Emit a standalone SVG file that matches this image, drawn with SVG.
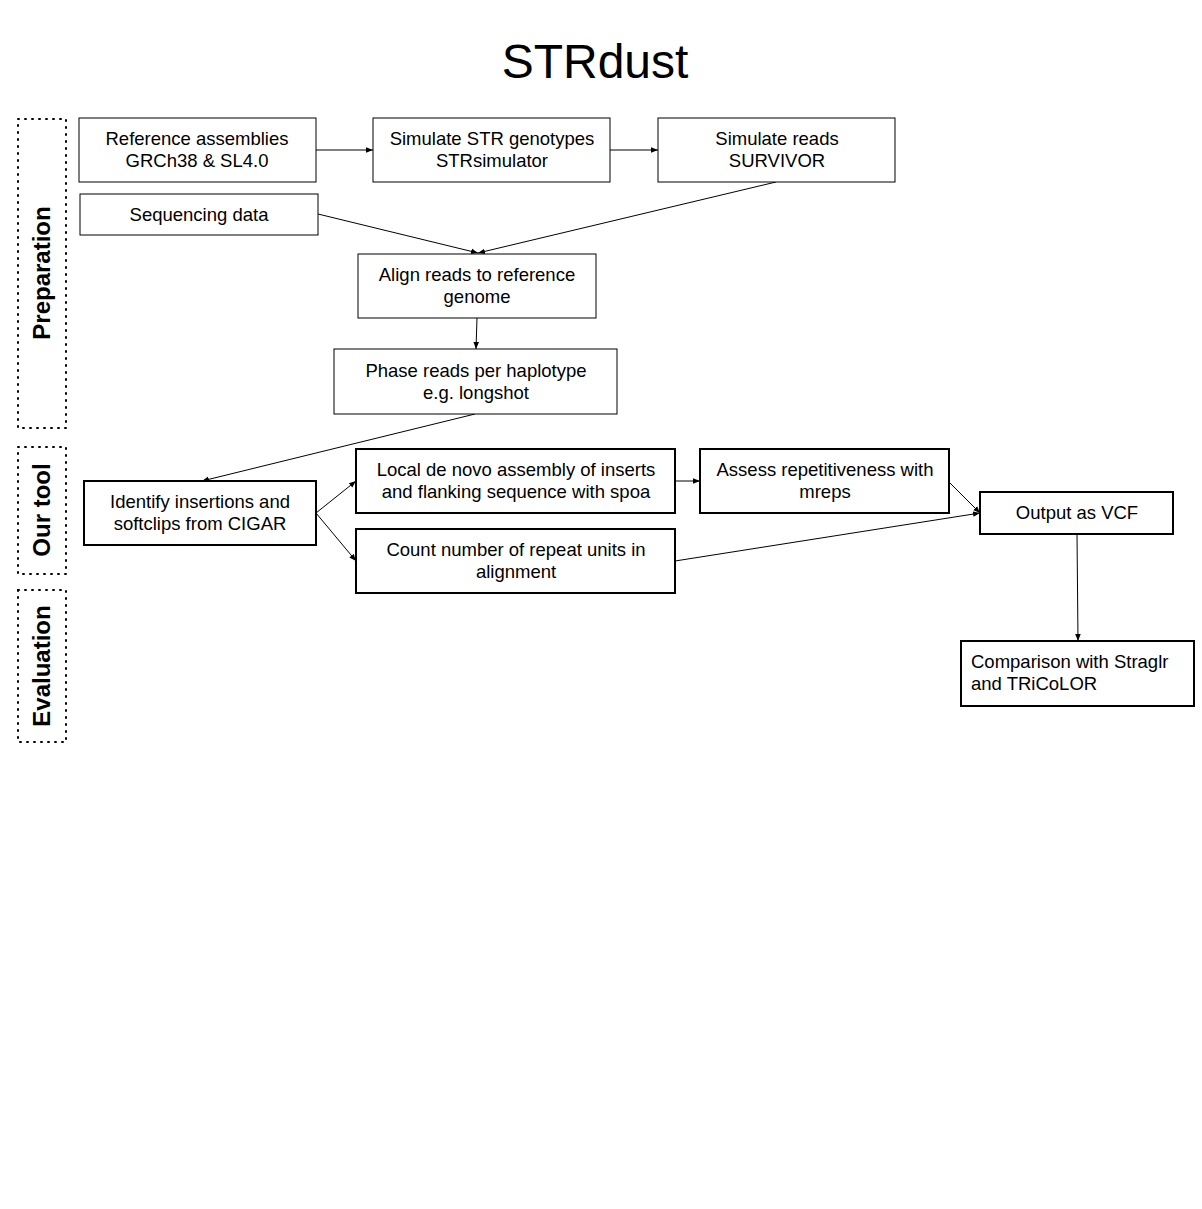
<svg xmlns="http://www.w3.org/2000/svg" width="1202" height="1209" viewBox="0 0 1202 1209">
<style>
.b1{fill:#fff;stroke:#000;stroke-width:1}
.b2{fill:#fff;stroke:#000;stroke-width:2}
.t{font-family:"Liberation Sans",Arial,sans-serif;font-size:18.5px;fill:#000;text-anchor:middle}
.tl{font-family:"Liberation Sans",Arial,sans-serif;font-size:18.5px;fill:#000}
.lane{fill:none;stroke:#000;stroke-width:2;stroke-dasharray:1 6;stroke-linecap:round}
.lt{font-family:"Liberation Sans",Arial,sans-serif;font-size:24px;font-weight:bold;fill:#000;text-anchor:middle}
.c{fill:none;stroke:#000;stroke-width:1;marker-end:url(#ah)}
</style>
<defs>
<marker id="ah" viewBox="0 0 10 10" refX="10" refY="5" markerWidth="7" markerHeight="7" markerUnits="userSpaceOnUse" orient="auto">
<path d="M0,1 L10,5 L0,9 z" fill="#000"/>
</marker>
</defs>
<rect width="1202" height="1209" fill="#fff"/>
<text x="595" y="78" font-family="'Liberation Sans',Arial,sans-serif" font-size="48" text-anchor="middle">STRdust</text>

<g id="lanes">
<rect class="lane" x="18" y="119" width="48" height="309"/>
<text class="lt" transform="translate(50,273) rotate(-90)">Preparation</text>
<rect class="lane" x="18" y="447" width="48" height="127"/>
<text class="lt" transform="translate(50,510) rotate(-90)">Our tool</text>
<rect class="lane" x="18" y="590" width="48" height="152"/>
<text class="lt" transform="translate(50,666) rotate(-90)">Evaluation</text>
</g>

<g id="connectors">
<line class="c" x1="316" y1="150" x2="373" y2="150"/>
<line class="c" x1="610" y1="150" x2="658" y2="150"/>
<line class="c" x1="318" y1="214" x2="478" y2="253"/>
<line class="c" x1="776" y1="182" x2="478" y2="253"/>
<line class="c" x1="477" y1="318" x2="476" y2="349"/>
<line class="c" x1="475" y1="414" x2="202" y2="481"/>
<line class="c" x1="316" y1="513" x2="356" y2="481"/>
<line class="c" x1="316" y1="513" x2="356" y2="561"/>
<line class="c" x1="675" y1="481" x2="700" y2="481"/>
<line class="c" x1="949" y1="482" x2="980" y2="513"/>
<line class="c" x1="675" y1="561" x2="980" y2="513"/>
<line class="c" x1="1077" y1="534" x2="1078" y2="641"/>
</g>

<g id="n1"><rect class="b1" x="79" y="118" width="237" height="64"/><text class="t" x="197" y="145">Reference assemblies</text><text class="t" x="197" y="167">GRCh38 &amp; SL4.0</text></g>
<g id="n2"><rect class="b1" x="373" y="118" width="237" height="64"/><text class="t" x="492" y="145">Simulate STR genotypes</text><text class="t" x="492" y="167">STRsimulator</text></g>
<g id="n3"><rect class="b1" x="658" y="118" width="237" height="64"/><text class="t" x="777" y="145">Simulate reads</text><text class="t" x="777" y="167">SURVIVOR</text></g>
<g id="n4"><rect class="b1" x="80" y="194" width="238" height="41"/><text class="t" x="199" y="221">Sequencing data</text></g>
<g id="n5"><rect class="b1" x="358" y="254" width="238" height="64"/><text class="t" x="477" y="281">Align reads to reference</text><text class="t" x="477" y="303">genome</text></g>
<g id="n6"><rect class="b1" x="334" y="349" width="283" height="65"/><text class="t" x="476" y="377">Phase reads per haplotype</text><text class="t" x="476" y="399">e.g. longshot</text></g>
<g id="n7"><rect class="b2" x="84" y="481" width="232" height="64"/><text class="t" x="200" y="508">Identify insertions and</text><text class="t" x="200" y="530">softclips from CIGAR</text></g>
<g id="n8"><rect class="b2" x="356" y="449" width="319" height="64"/><text class="t" x="516" y="476">Local de novo assembly of inserts</text><text class="t" x="516" y="498">and flanking sequence with spoa</text></g>
<g id="n9"><rect class="b2" x="356" y="529" width="319" height="64"/><text class="t" x="516" y="556">Count number of repeat units in</text><text class="t" x="516" y="578">alignment</text></g>
<g id="n10"><rect class="b2" x="700" y="449" width="249" height="64"/><text class="t" x="825" y="476">Assess repetitiveness with</text><text class="t" x="825" y="498">mreps</text></g>
<g id="n11"><rect class="b2" x="980" y="492" width="193" height="42"/><text class="t" x="1077" y="519">Output as VCF</text></g>
<g id="n12"><rect class="b2" x="961" y="641" width="233" height="65"/><text class="tl" x="971" y="668">Comparison with Straglr</text><text class="tl" x="971" y="690">and TRiCoLOR</text></g>
</svg>
